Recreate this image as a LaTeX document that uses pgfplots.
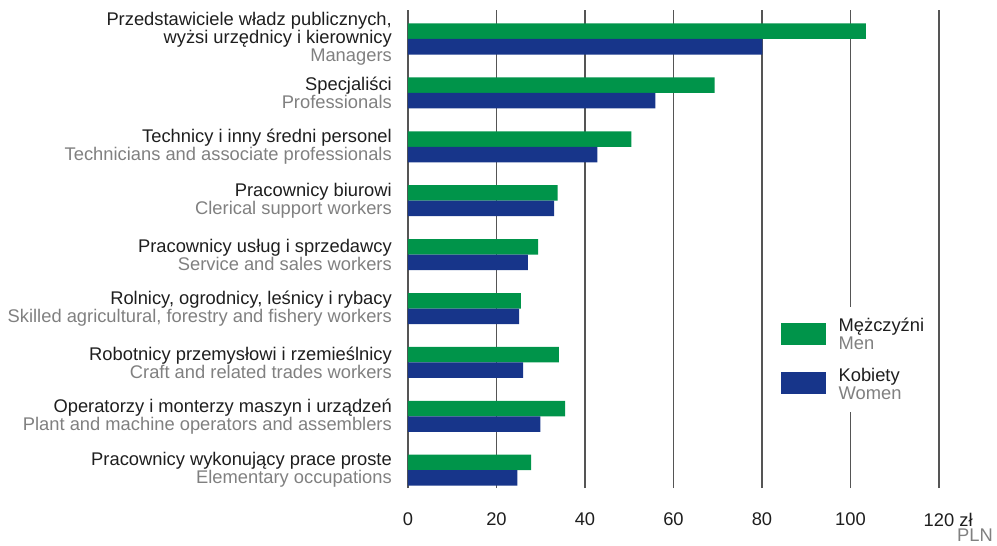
\documentclass[border=0pt]{standalone}
\usepackage{fontspec}
\setmainfont{Liberation Sans}
\usepackage{pgfplots}
\pgfplotsset{compat=1.18}
\definecolor{mgreen}{HTML}{00944A}
\definecolor{wblue}{HTML}{17358A}
\definecolor{lbl}{HTML}{808080}
\definecolor{txt}{HTML}{1E1E1E}
\definecolor{gridc}{HTML}{555555}
\newcommand{\lfont}{\fontsize{18.4}{18}\selectfont}
\begin{document}
\begin{tikzpicture}
\useasboundingbox (-408bp,-58bp) rectangle (589bp,488bp);
\begin{axis}[
  scale only axis, width=531bp, height=478bp,
  xbar,
  xmin=0, xmax=120, ymin=-0.33, ymax=8.538,
  xtick={0,20,...,120},
  xticklabels={0,20,40,60,80,100,120\rlap{ zł}},
  ytick={0,...,8},
  yticklabels={
    {Pracownicy wykonujący prace proste\\\textcolor{lbl}{Elementary occupations}},
    {Operatorzy i monterzy maszyn i urządzeń\\\textcolor{lbl}{Plant and machine operators and assemblers}},
    {Robotnicy przemysłowi i rzemieślnicy\\\textcolor{lbl}{Craft and related trades workers}},
    {Rolnicy, ogrodnicy, leśnicy i rybacy\\\textcolor{lbl}{Skilled agricultural, forestry and fishery workers}},
    {Pracownicy usług i sprzedawcy\\\textcolor{lbl}{Service and sales workers}},
    {Pracownicy biurowi\\\textcolor{lbl}{Clerical support workers}},
    {Technicy i inny średni personel\\\textcolor{lbl}{Technicians and associate professionals}},
    {Specjaliści\\\textcolor{lbl}{Professionals}},
    {Przedstawiciele władz publicznych,\\wyżsi urzędnicy i kierownicy\\\textcolor{lbl}{Managers}}
  },
  yticklabel style={align=right, inner sep=0pt, xshift=-16bp, text=txt, font=\lfont},
  xticklabel style={inner sep=0pt, yshift=-25bp, text=txt, font=\lfont},
  major tick length=0pt,
  axis line style={draw=none},
  xmajorgrids,
  grid style={draw=gridc, line width=1.2bp},
  clip=false,
  legend style={at={(0.675,0.379)}, anchor=north west, draw=none, fill=white,
    inner xsep=14bp, inner ysep=11bp, row sep=17bp, column sep=13bp,
    font=\lfont, text=txt, nodes={align=left, inner sep=0pt}},
  legend cell align=left,
]
\addplot[draw=none, fill=mgreen, bar width=0.2876, bar shift=0.1438,
  legend image code/.code={\fill[mgreen] (0bp,-10bp) rectangle (45bp,12bp);}]
  coordinates {
    (27.8,0) (35.5,1) (34.1,2) (25.5,3) (29.4,4) (33.8,5) (50.5,6) (69.3,7) (103.5,8)
  };
\addlegendentry{Mężczyźni\\\textcolor{lbl}{Men}}
\addplot[draw=none, fill=wblue, bar width=0.2876, bar shift=-0.1438,
  legend image code/.code={\fill[wblue] (0bp,-10bp) rectangle (45bp,12bp);}]
  coordinates {
    (24.7,0) (29.9,1) (26.0,2) (25.1,3) (27.1,4) (33.0,5) (42.8,6) (55.9,7) (80.1,8)
  };
\addlegendentry{Kobiety\\\textcolor{lbl}{Women}}
\node[anchor=east, text=lbl, inner sep=0pt, font=\lfont, yshift=-47bp] at (rel axis cs:1.1017,0) {PLN};
\end{axis}
\end{tikzpicture}
\end{document}
